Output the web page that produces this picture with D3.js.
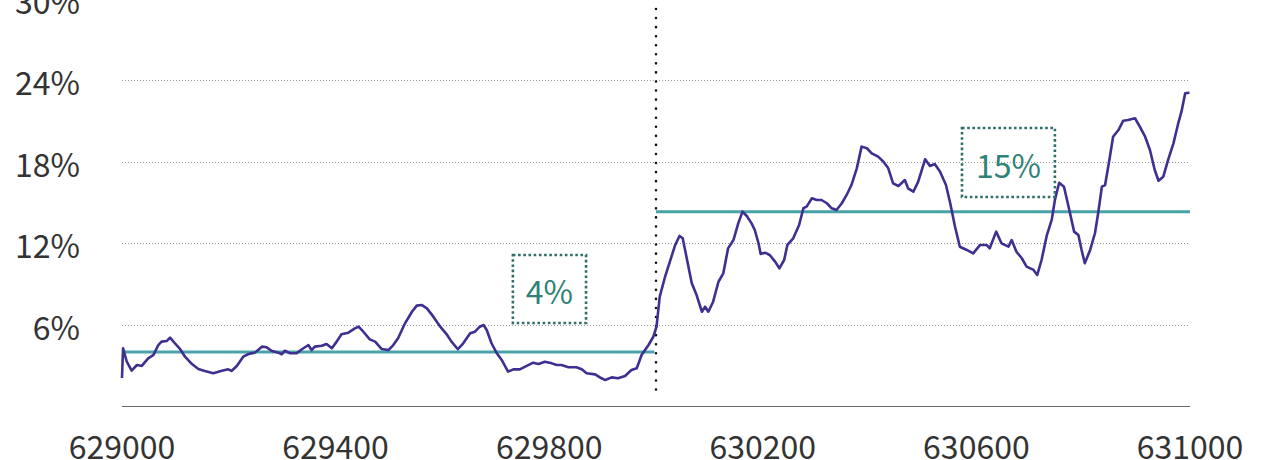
<!DOCTYPE html>
<html>
<head>
<meta charset="utf-8">
<script src="https://cdn.jsdelivr.net/npm/d3@7/dist/d3.min.js"></script>
<style>
  html, body { margin: 0; padding: 0; background: #fff; }
  svg { display: block; }
  text { font-family: "Noto Sans CJK SC", "Noto Sans", sans-serif; }
</style>
</head>
<body>
<svg id="chart" width="1268" height="460"></svg>
<script>
// ---- data ----
const blocks = [629000,629002,629009,629018,629028,629037,629049,629059,629068,629074,629084,629090,629099,629109,629118,629131,629143,629155,629171,629187,629199,629205,629215,629227,629237,629249,629262,629271,629280,629293,629299,629305,629315,629327,629337,629349,629355,629361,629374,629383,629393,629402,629411,629424,629436,629443,629452,629464,629474,629486,629499,629508,629517,629530,629543,629552,629561,629571,629583,629596,629608,629617,629629,629639,629652,629661,629670,629677,629683,629692,629702,629711,629723,629733,629745,629758,629770,629780,629792,629805,629814,629823,629836,629851,629861,629870,629886,629898,629905,629917,629929,629942,629954,629964,629973,629986,629995,630001,630007,630017,630026,630036,630044,630050,630057,630067,630076,630086,630092,630098,630107,630117,630126,630135,630145,630154,630162,630170,630179,630185,630192,630196,630204,630213,630223,630231,630240,630246,630257,630268,630276,630282,630292,630301,630310,630320,630329,630338,630348,630357,630366,630376,630385,630395,630404,630416,630426,630435,630444,630454,630466,630472,630482,630491,630504,630513,630522,630532,630543,630551,630560,630569,630582,630594,630607,630619,630625,630637,630647,630660,630666,630675,630685,630694,630707,630714,630722,630732,630741,630747,630755,630764,630774,630783,630791,630797,630803,630813,630822,630828,630835,630841,630849,630856,630866,630875,630884,630897,630906,630916,630925,630934,630941,630950,630959,630969,630978,630984,630991,630999];
const orphanRate = [2.06,4.25,3.26,2.60,3.02,2.95,3.51,3.76,4.49,4.74,4.79,5.03,4.62,4.18,3.63,3.09,2.72,2.58,2.41,2.60,2.70,2.58,2.95,3.63,3.83,3.93,4.37,4.32,4.07,3.93,3.81,4.07,3.88,3.88,4.18,4.49,4.12,4.37,4.44,4.57,4.25,4.74,5.28,5.40,5.72,5.84,5.47,4.91,4.74,4.20,4.12,4.49,4.99,6.09,6.94,7.39,7.44,7.19,6.58,5.84,5.28,4.74,4.18,4.62,5.35,5.47,5.84,5.96,5.60,4.62,3.88,3.39,2.53,2.70,2.70,2.95,3.19,3.09,3.26,3.14,3.02,3.02,2.85,2.85,2.70,2.41,2.33,2.04,1.91,2.11,2.04,2.21,2.65,2.78,3.76,4.49,5.10,5.84,8.05,9.52,10.63,11.86,12.52,12.35,10.99,9.04,8.17,6.94,7.31,6.94,7.68,9.15,9.77,11.61,12.22,13.45,14.31,13.99,13.45,12.96,11.98,11.19,11.29,11.12,10.63,10.14,10.75,11.86,12.35,13.33,14.56,14.68,15.30,15.17,15.17,14.93,14.56,14.43,14.93,15.54,16.27,17.50,19.10,18.98,18.61,18.36,17.99,17.50,16.40,16.20,16.64,16.03,15.78,16.52,18.17,17.67,17.82,17.25,16.27,14.93,13.20,11.73,11.49,11.24,11.86,11.86,11.61,12.84,11.98,11.73,12.22,11.36,10.88,10.26,10.02,9.65,10.75,12.59,13.70,15.17,16.44,16.15,14.43,12.84,12.59,11.49,10.51,11.49,12.72,14.19,16.15,16.27,18.12,19.83,20.32,21.01,21.06,21.19,20.57,19.83,18.85,17.38,16.59,16.89,18.12,19.34,20.82,21.67,23.03,23.07];

const halvingBlock = 630000;
const meanSegments = [
  { from: 629000, to: 629997, value: 3.98 },
  { from: 630000, to: 631000, value: 14.3 }
];
const annotations = [
  { label: "4%",  x0: 629732, x1: 629869, y0: 6.11,  y1: 11.12 },
  { label: "15%", x0: 630573, x1: 630747, y0: 15.39, y1: 20.47 }
];
const yTicks = [6, 12, 18, 24, 30];
const yTickLabels = ["6%", "12%", "18%", "24%", "30%"];
const xTicks = [629000, 629400, 629800, 630200, 630600, 631000];
const xTickLabels = ["629000", "629400", "629800", "630200", "630600", "631000"];

// ---- chart ----
const svg = d3.select("#chart");
const x = d3.scaleLinear().domain([629000, 631000]).range([122, 1190]);
const y = d3.scaleLinear().domain([0, 30]).range([406, -1.4]);

// gridlines
svg.append("g").selectAll("line").data(yTicks).join("line")
  .attr("x1", x(629000)).attr("x2", x(631000))
  .attr("y1", d => Math.round(y(d)) + 0.5).attr("y2", d => Math.round(y(d)) + 0.5)
  .attr("stroke", "#9a9a9a").attr("stroke-width", 1).attr("stroke-dasharray", "1,2");

// baseline
svg.append("line")
  .attr("x1", x(629000)).attr("x2", x(631000))
  .attr("y1", y(0) + 0.5).attr("y2", y(0) + 0.5)
  .attr("stroke", "#6b6b6b").attr("stroke-width", 1.2);

// y tick labels
svg.append("g").selectAll("text").data(yTicks).join("text")
  .attr("x", 80).attr("y", d => y(d) + 1)
  .attr("text-anchor", "end").attr("dominant-baseline", "central")
  .attr("font-size", 32).attr("fill", "#333")
  .text((d, i) => yTickLabels[i]);

// x tick labels
svg.append("g").selectAll("text").data(xTicks).join("text")
  .attr("x", d => x(d)).attr("y", 459)
  .attr("text-anchor", "middle")
  .attr("font-size", 32).attr("fill", "#333")
  .text((d, i) => xTickLabels[i]);

// mean lines
svg.append("g").selectAll("line").data(meanSegments).join("line")
  .attr("x1", d => x(d.from)).attr("x2", d => x(d.to))
  .attr("y1", d => y(d.value)).attr("y2", d => y(d.value))
  .attr("stroke", "#4aa3a8").attr("stroke-width", 3);

// halving vertical dotted line
svg.append("line")
  .attr("x1", x(halvingBlock)).attr("x2", x(halvingBlock))
  .attr("y1", 9).attr("y2", 398)
  .attr("stroke", "#111").attr("stroke-width", 2.6)
  .attr("stroke-linecap", "round").attr("stroke-dasharray", "0.01,9.05");

// orphan rate line
const line = d3.line().x((d, i) => x(blocks[i])).y(d => y(d));
svg.append("path")
  .datum(orphanRate)
  .attr("d", line)
  .attr("fill", "none")
  .attr("stroke", "#3d3090").attr("stroke-width", 2.6)
  .attr("stroke-linejoin", "round");

// annotation boxes
const ann = svg.append("g").selectAll("g").data(annotations).join("g");
ann.append("rect")
  .attr("x", d => x(d.x0)).attr("y", d => y(d.y1))
  .attr("width", d => x(d.x1) - x(d.x0)).attr("height", d => y(d.y0) - y(d.y1))
  .attr("fill", "none").attr("stroke", "#2f6f68").attr("stroke-width", 2.6)
  .attr("stroke-dasharray", "2.6,2.6");
ann.append("text")
  .attr("x", d => (x(d.x0) + x(d.x1)) / 2)
  .attr("y", d => (y(d.y0) + y(d.y1)) / 2 + 1)
  .attr("text-anchor", "middle").attr("dominant-baseline", "central")
  .attr("font-size", 32).attr("fill", "#2e8376")
  .text(d => d.label);
</script>
</body>
</html>
